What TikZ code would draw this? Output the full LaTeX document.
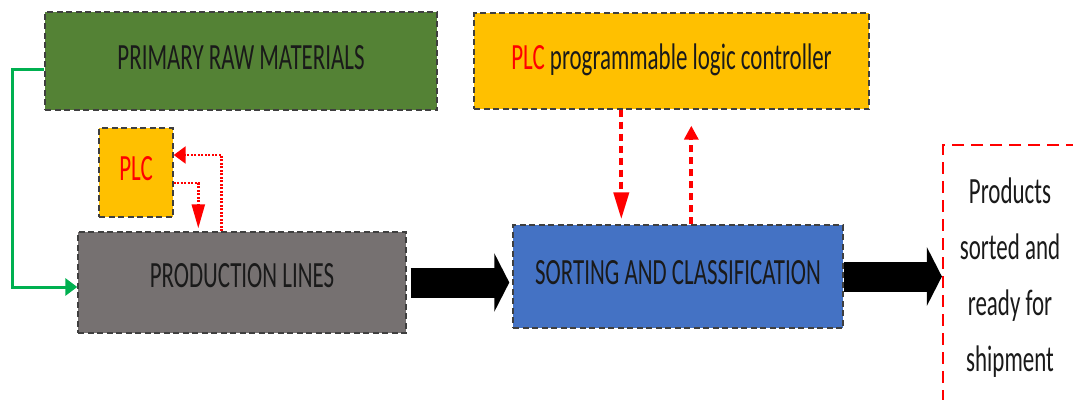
\documentclass[tikz,border=0pt]{standalone}
\usepackage{fontspec}
\usetikzlibrary{arrows.meta,calc}
\newfontfamily\boxfont[FakeStretch=0.62]{Carlito}
\definecolor{rawgreen}{HTML}{548235}
\definecolor{linegray}{HTML}{767171}
\definecolor{plcgold}{HTML}{FFC000}
\definecolor{sortblue}{HTML}{4472C4}
\definecolor{feedgreen}{HTML}{00B050}
\definecolor{edgegray}{HTML}{3F3F3F}
\definecolor{inkgray}{HTML}{1A1A1A}
\tikzset{
  stagebox/.style={draw=edgegray, line width=1.4pt, dash pattern=on 6pt off 3.5pt,
    inner sep=0pt, align=center, text=inkgray,
    font=\boxfont\fontsize{37}{56}\selectfont},
  oneline/.style={text height=24pt, text depth=8pt},
  feedline/.style={draw=feedgreen, line width=3pt,
    -{Triangle[length=12pt,width=17pt]}},
  ctlarrow/.style={draw=red, line width=4pt, dash pattern=on 7pt off 5pt},
  plcarrow/.style={draw=red, line width=2.4pt, dash pattern=on 2pt off 1.5pt},
  flowarrow/.style={draw=black, line width=30pt,
    -{Triangle[length=15pt,width=58pt]}},
}
\begin{document}
\begin{tikzpicture}[x=1pt,y=-1pt]
\useasboundingbox (0,0) rectangle (1073,399);
\fill[white] (0,0) rectangle (1073,399);
\clip (0,0) rectangle (1073,399);

% process stages
\node[stagebox, oneline, fill=rawgreen, minimum width=392pt, minimum height=98pt]
  (raw) at (241,61) {PRIMARY RAW MATERIALS};
\node[stagebox, oneline, fill=plcgold, minimum width=74pt, minimum height=89pt]
  (plc) at (136,172.5) {\textcolor{red}{PLC}};
\node[stagebox, oneline, fill=linegray, minimum width=328pt, minimum height=101pt]
  (prod) at (242,282.5) {\raisebox{3pt}{PRODUCTION LINES}};
\node[stagebox, oneline, fill=plcgold, minimum width=395pt, minimum height=96pt]
  (ctl) at (671.5,61) {\textcolor{red}{PLC} programmable logic controller};
\node[stagebox, oneline, fill=sortblue, minimum width=330pt, minimum height=103pt]
  (sort) at (678,276.5) {SORTING AND CLASSIFICATION};
\node[stagebox, draw=red, fill=white, line width=2.2pt,
  dash pattern=on 12pt off 7pt, minimum width=134pt, minimum height=266pt]
  (ship) at (1010,278) {Products\\sorted and\\ready for\\shipment};

% raw material feed
\draw[feedline] ([yshift=-8pt]raw.west) -- ++(-32,0) |- ([yshift=-4.5pt]prod.west);

% local PLC loop on the production lines
\coordinate (fbk) at ($(prod.north west)+(144,0)$);
\coordinate (cmd) at ($(prod.north west)+(121,0)$);
\draw[plcarrow, -{Triangle[length=12pt,width=17pt]}]
  (fbk) |- ([yshift=17.5pt]plc.east);
\draw[plcarrow, -{Triangle[length=24pt,width=13pt]}, shorten >=3pt]
  ([yshift=-10.5pt]plc.east) -| (cmd);

% central PLC and sorting stage
\coordinate (down) at ($(ctl.south west)+(148,0)$);
\coordinate (up) at ($(sort.north west)+(179,0)$);
\draw[ctlarrow, -{Triangle[length=27pt,width=15pt]}, shorten >=5pt]
  (down) -- (down |- sort.north);
\draw[ctlarrow, -{Triangle[length=14pt,width=14pt]}, shorten >=16pt]
  (up) -- (up |- ctl.south);

% main material flow
\draw[flowarrow, shorten >=3pt] ([xshift=4pt]prod.east) -- (sort.west |- prod.east);
\draw[flowarrow] (sort.east) -- (ship.west |- sort.east);
\end{tikzpicture}
\end{document}
